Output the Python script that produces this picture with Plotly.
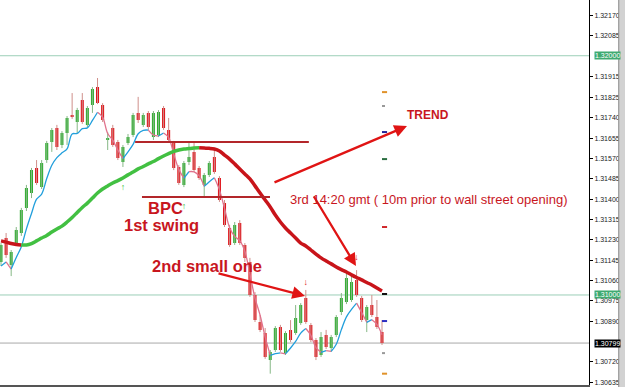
import plotly.graph_objects as go

# ---------------- data ----------------
open_ = [1.31138, 1.31238, 1.31125, 1.31217, 1.31259, 1.31364, 1.31426, 1.31531, 1.31451, 1.31564,
         1.31639, 1.31698, 1.31627, 1.31677, 1.31752, 1.31723, 1.31815, 1.31711, 1.31794, 1.31869,
         1.31794, 1.31648, 1.31698, 1.31639, 1.31556, 1.31635, 1.31669, 1.31761, 1.31711, 1.31761,
         1.31660, 1.31669, 1.31782, 1.31690, 1.31635, 1.31535, 1.31460, 1.31556, 1.31598, 1.31531,
         1.31460, 1.31502, 1.31577, 1.31489, 1.31384, 1.31280, 1.31217, 1.31301, 1.31209, 1.31138,
         1.31000, 1.30887, 1.30841, 1.30728, 1.30770, 1.30866, 1.30757, 1.30854, 1.30841, 1.30883,
         1.30987, 1.30875, 1.30812, 1.30749, 1.30833, 1.30778, 1.30833, 1.30929, 1.30971, 1.30979,
         1.31063, 1.30987, 1.30895, 1.30958, 1.30908, 1.30845]
high = [1.31217, 1.31259, 1.31188, 1.31284, 1.31364, 1.31460, 1.31531, 1.31564, 1.31564, 1.31644,
        1.31698, 1.31711, 1.31685, 1.31748, 1.31844, 1.31782, 1.31844, 1.31790, 1.31869, 1.31907,
        1.31802, 1.31681, 1.31711, 1.31648, 1.31627, 1.31673, 1.31761, 1.31828, 1.31761, 1.31769,
        1.31769, 1.31773, 1.31790, 1.31740, 1.31644, 1.31543, 1.31560, 1.31635, 1.31635, 1.31539,
        1.31510, 1.31560, 1.31614, 1.31497, 1.31397, 1.31293, 1.31305, 1.31313, 1.31217, 1.31155,
        1.31012, 1.30916, 1.30862, 1.30770, 1.30870, 1.30875, 1.30849, 1.30895, 1.30958, 1.30966,
        1.31021, 1.30883, 1.30820, 1.30845, 1.30854, 1.30833, 1.30916, 1.31008, 1.31092, 1.31084,
        1.31104, 1.30996, 1.30958, 1.31000, 1.30979, 1.30895]
low = [1.31121, 1.31155, 1.31079, 1.31205, 1.31247, 1.31351, 1.31405, 1.31460, 1.31443, 1.31552,
       1.31598, 1.31606, 1.31614, 1.31627, 1.31736, 1.31677, 1.31715, 1.31702, 1.31761, 1.31798,
       1.31723, 1.31606, 1.31619, 1.31564, 1.31535, 1.31627, 1.31660, 1.31719, 1.31702, 1.31690,
       1.31648, 1.31660, 1.31690, 1.31639, 1.31522, 1.31460, 1.31451, 1.31543, 1.31514, 1.31481,
       1.31410, 1.31493, 1.31506, 1.31389, 1.31284, 1.31201, 1.31209, 1.31209, 1.31138, 1.30992,
       1.30887, 1.30845, 1.30733, 1.30671, 1.30762, 1.30762, 1.30749, 1.30803, 1.30833, 1.30875,
       1.30879, 1.30803, 1.30728, 1.30741, 1.30774, 1.30762, 1.30824, 1.30916, 1.30962, 1.30971,
       1.30992, 1.30887, 1.30845, 1.30908, 1.30858, 1.30791]
close = [1.31209, 1.31167, 1.31180, 1.31272, 1.31355, 1.31447, 1.31522, 1.31468, 1.31552, 1.31635,
         1.31690, 1.31619, 1.31677, 1.31740, 1.31744, 1.31773, 1.31723, 1.31782, 1.31861, 1.31802,
         1.31731, 1.31656, 1.31627, 1.31573, 1.31619, 1.31660, 1.31752, 1.31731, 1.31752, 1.31702,
         1.31761, 1.31765, 1.31698, 1.31648, 1.31531, 1.31468, 1.31552, 1.31577, 1.31522, 1.31489,
         1.31502, 1.31552, 1.31514, 1.31397, 1.31293, 1.31209, 1.31293, 1.31217, 1.31155, 1.31000,
         1.30895, 1.30854, 1.30741, 1.30762, 1.30862, 1.30770, 1.30841, 1.30812, 1.30904, 1.30958,
         1.30887, 1.30812, 1.30741, 1.30824, 1.30783, 1.30824, 1.30908, 1.30987, 1.31071, 1.31054,
         1.31000, 1.30895, 1.30950, 1.30916, 1.30866, 1.30799]
ma_slow = [1.31226, 1.31221, 1.31215, 1.31211, 1.31209, 1.31209, 1.31215, 1.31226, 1.31238, 1.31249,
           1.31263, 1.31276, 1.31288, 1.31305, 1.31324, 1.31345, 1.31366, 1.31384, 1.31405, 1.31426,
           1.31443, 1.31456, 1.31468, 1.31478, 1.31489, 1.31502, 1.31514, 1.31527, 1.31537, 1.31548,
           1.31558, 1.31570, 1.31581, 1.31591, 1.31600, 1.31606, 1.31610, 1.31612, 1.31614, 1.31615,
           1.31614, 1.31613, 1.31610, 1.31602, 1.31585, 1.31568, 1.31548, 1.31527, 1.31506, 1.31485,
           1.31456, 1.31426, 1.31397, 1.31368, 1.31334, 1.31305, 1.31280, 1.31259, 1.31238, 1.31217,
           1.31205, 1.31188, 1.31171, 1.31155, 1.31142, 1.31130, 1.31117, 1.31106, 1.31096, 1.31084,
           1.31073, 1.31063, 1.31052, 1.31042, 1.31029, 1.31017]
idx = list(range(len(close)))

tick_labels = [1.32170, 1.32085, 1.31915, 1.31825, 1.31740, 1.31655, 1.31570, 1.31485, 1.31400,
               1.31315, 1.31230, 1.31145, 1.31060, 1.30975, 1.30890, 1.30720, 1.30635]
round_levels = [1.32000, 1.31000]
bid_price = 1.30799

trend_prices = [1.31639, 1.31410]
trend_start = [26.4, 27.75]
trend_end = [60.6, 52.95]

pivot_prices = [1.31848, 1.31790, 1.31681, 1.31568, 1.31284, 1.31004, 1.30891, 1.30757, 1.30671]
pivot_colors = ['#e0922a', '#999999', '#23239a', '#2a6e40', '#d0262a', '#111111', '#2d2dc0', '#999999', '#e0922a']
pivot_dash = ['solid', 'dot', 'solid', 'solid', 'solid', 'solid', 'solid', 'dot', 'solid']

fractal_up_idx = [24, 36]
fractal_up_price = [1.31447, 1.31368]
fractal_dn_idx = [60, 70]
fractal_dn_price = [1.31050, 1.31155]

# ---------------- figure ----------------
GREEN = '#31ad31'
RED = '#e0151c'
fig = go.Figure()

# wicks
for up in (True, False):
    xs, ys = [], []
    for i in idx:
        if (close[i] >= open_[i]) == up:
            xs += [i, i, None]
            ys += [low[i], high[i], None]
    fig.add_trace(go.Scatter(x=xs, y=ys, mode='lines', hoverinfo='skip', showlegend=False,
                             line=dict(color='#86b886' if up else '#cf8f8a', width=1)))

fig.add_trace(go.Candlestick(
    x=idx, open=open_, high=high, low=low, close=close, showlegend=False,
    increasing=dict(line=dict(color=GREEN, width=0), fillcolor=GREEN),
    decreasing=dict(line=dict(color=RED, width=0), fillcolor=RED),
    whiskerwidth=0))


def add_colored(y, up_color, down_color, width):
    n = len(y)
    col = lambda k: up_color if y[k + 1] >= y[k] else down_color
    i = 0
    while i < n - 1:
        c = col(i)
        j = i
        while j < n - 1 and col(j) == c:
            j += 1
        fig.add_trace(go.Scatter(x=idx[i:j + 1], y=y[i:j + 1], mode='lines', hoverinfo='skip',
                                 showlegend=False, line=dict(color=c, width=width, shape='spline')))
        i = j


# fast MA (EMA of lows, period 3)
fast = [low[0]]
for l in low[1:]:
    fast.append(fast[-1] + 0.5 * (l - fast[-1]))
add_colored(fast, '#229fdc', '#e0728c', 1.3)
add_colored(ma_slow, '#42c042', '#c8141a', 3.5)

# fractal arrows
fig.add_trace(go.Scatter(x=fractal_up_idx, y=fractal_up_price, mode='text', text=['↑'] * 2,
                         textfont=dict(color='#3cbf3c', size=9), showlegend=False, hoverinfo='skip'))
fig.add_trace(go.Scatter(x=fractal_dn_idx, y=fractal_dn_price, mode='text', text=['↓'] * 2,
                         textfont=dict(color='#e02020', size=9), showlegend=False, hoverinfo='skip'))

# horizontal levels
for p in round_levels:
    fig.add_hline(y=p, line=dict(color='#9ccfb8', width=1), layer='below')
fig.add_hline(y=bid_price, line=dict(color='#a8a8a8', width=1), layer='below')
for p, s, e in zip(trend_prices, trend_start, trend_end):
    fig.add_shape(type='line', x0=s, x1=e, y0=p, y1=p, line=dict(color='#b3262a', width=2), layer='above')
for p, c, d in zip(pivot_prices, pivot_colors, pivot_dash):
    fig.add_shape(type='line', x0=75.0, x1=76.0, y0=p, y1=p, line=dict(color=c, width=2, dash=d))

# right scrollbar strip
fig.add_shape(type='rect', xref='paper', yref='paper', x0=1.0505, x1=1.062, y0=-0.01, y1=1.01,
              fillcolor='#d2d2d2', line=dict(color='#8a8a8a', width=1))

# boxed price labels
for p, bg in [(1.32000, '#3faa70'), (1.31000, '#3faa70'), (bid_price, '#000000')]:
    fig.add_annotation(x=1, xref='paper', y=p, yref='y', xanchor='left', xshift=5, text=f'{p:.5f}',
                       showarrow=False, bgcolor=bg, borderpad=0,
                       font=dict(color='white', size=7, family='Liberation Sans'))

TXT = '#c8161e'
ARR = '#e01414'
# arrows
for (x0, y0, x1, y1) in [(53.54, 1.31468, 79.92, 1.31706),
                         (61.41, 1.31418, 69.88, 1.31121),
                         (42.52, 1.31092, 59.84, 1.30996)]:
    fig.add_annotation(x=x1, y=y1, ax=x0, ay=y0, xref='x', yref='y', axref='x', ayref='y', text='',
                       showarrow=True, arrowhead=2, arrowsize=1.1, arrowwidth=2.3, arrowcolor=ARR)

texts = [('TREND', 84.05, 1.31752, 12, True),
         ('3rd 14:20 gmt ( 10m prior to wall street opening)', 84.25, 1.31401, 13, False),
         ('BPC', 32.3, 1.31364, 16.5, True),
         ('1st swing', 31.69, 1.31292, 16.5, True),
         ('2nd small one', 40.55, 1.31121, 16.5, True)]
for t, x, y, s, b in texts:
    fig.add_annotation(x=x, y=y, xref='x', yref='y', text=f'<b>{t}</b>' if b else t, showarrow=False,
                       font=dict(color=TXT, size=s, family='Liberation Sans'))

fig.update_layout(
    width=625, height=387, margin=dict(l=0, r=36, t=0, b=2),
    paper_bgcolor='white', plot_bgcolor='white', showlegend=False,
    boxgap=0.15,
    xaxis=dict(range=[-0.2, 115.75], showgrid=False, zeroline=False, showticklabels=False, ticks='',
               showline=True, linecolor='#555555', linewidth=2, rangeslider=dict(visible=False)),
    yaxis=dict(range=[1.306237, 1.32233], side='right', showgrid=False, zeroline=False,
               showline=True, linecolor='black', linewidth=1, ticks='outside', ticklen=3,
               tickcolor='black', tickvals=tick_labels, ticktext=[f'{v:.5f}' for v in tick_labels],
               tickfont=dict(size=7, family='Liberation Sans', color='#222222')),
)

fig.write_html('out.html')
